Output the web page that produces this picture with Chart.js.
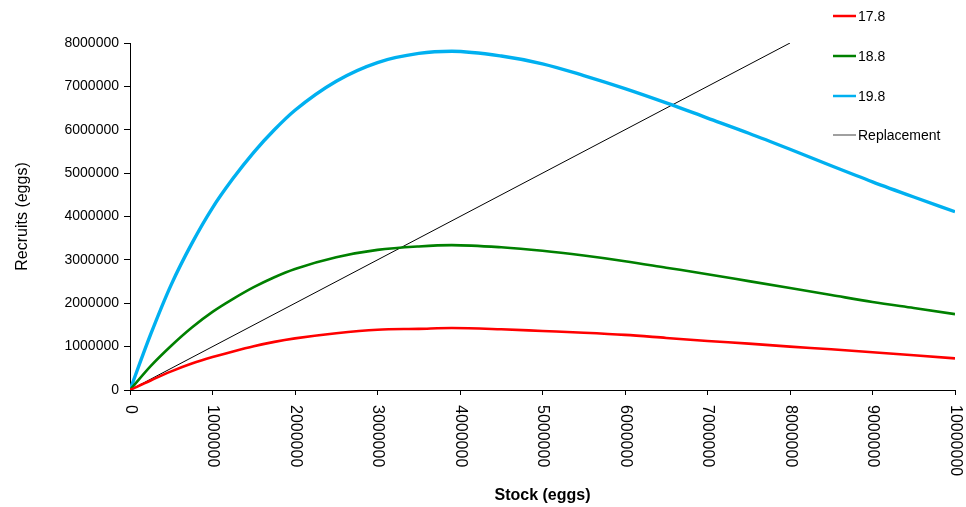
<!DOCTYPE html>
<html>
<head>
<meta charset="utf-8">
<title>Stock - recruitment</title>
<script src="https://cdn.jsdelivr.net/npm/chart.js@4.4.0/dist/chart.umd.min.js"></script>
<style>
  html, body { margin: 0; padding: 0; background: #fff; }
  #wrap { width: 966px; height: 507px; }
</style>
</head>
<body>
<div id="wrap"><canvas id="srChart" width="966" height="507"></canvas></div>
<script>
// values (eggs)
const stock = [0, 250000, 500000, 750000, 1000000, 1250000, 1500000, 1750000, 2000000,
  2500000, 3000000, 3500000, 3900000, 4500000, 5000000, 5500000, 6000000, 6500000,
  7000000, 7500000, 8000000, 8500000, 9000000, 9500000, 10000000];
const recruits178 = [0, 220000, 430000, 610000, 760000, 890000, 1010000, 1110000, 1190000,
  1310000, 1390000, 1410000, 1430000, 1400000, 1360000, 1320000, 1270000, 1200000,
  1130000, 1070000, 1000000, 940000, 870000, 800000, 730000];
const recruits188 = [0, 550000, 1020000, 1440000, 1800000, 2100000, 2370000, 2600000, 2790000,
  3060000, 3230000, 3310000, 3340000, 3290000, 3210000, 3100000, 2970000, 2820000,
  2670000, 2510000, 2350000, 2190000, 2030000, 1890000, 1750000];
const recruits198 = [0, 1280000, 2430000, 3380000, 4200000, 4880000, 5480000, 6000000, 6450000,
  7120000, 7550000, 7760000, 7810000, 7700000, 7520000, 7250000, 6950000, 6620000,
  6270000, 5920000, 5550000, 5170000, 4800000, 4450000, 4110000];
const replacementStock = [0, 8000000];
const replacementRecruits = [0, 8000000];
const seriesNames = ['17.8', '18.8', '19.8', 'Replacement'];
const xTickValues = [0, 1000000, 2000000, 3000000, 4000000, 5000000, 6000000, 7000000, 8000000, 9000000, 10000000];

const FONT = "'Liberation Sans', Arial, sans-serif";

function toPoints(xs, ys) {
  return xs.map((x, i) => ({ x: x, y: ys[i] }));
}

// x labels in the reference read top to bottom, so draw them ourselves
const xLabelPlugin = {
  id: 'xLabels',
  afterDraw(chart) {
    const ctx = chart.ctx;
    const xs = chart.scales.x;
    ctx.save();
    ctx.font = '16px ' + FONT;
    ctx.fillStyle = '#000';
    ctx.textAlign = 'left';
    ctx.textBaseline = 'middle';
    xTickValues.forEach(v => {
      const px = xs.getPixelForValue(v);
      ctx.save();
      ctx.translate(px, xs.top + 15);
      ctx.rotate(Math.PI / 2);
      ctx.fillText(String(v), 0, 0);
      ctx.restore();
    });
    ctx.restore();
  }
};

// legend sits inside the top right corner
const legendPlugin = {
  id: 'cornerLegend',
  afterDraw(chart) {
    const ctx = chart.ctx;
    const rows = [16, 56, 96, 135];
    ctx.save();
    ctx.font = '14px ' + FONT;
    ctx.textBaseline = 'middle';
    ctx.textAlign = 'left';
    chart.data.datasets.forEach((ds, i) => {
      const y = rows[i];
      ctx.strokeStyle = i === 3 ? '#808080' : ds.borderColor;
      ctx.lineWidth = i === 3 ? 1.5 : 2.5;
      ctx.beginPath();
      ctx.moveTo(833, y);
      ctx.lineTo(856, y);
      ctx.stroke();
      ctx.fillStyle = '#000';
      ctx.fillText(ds.label, 858, y + 1);
    });
    ctx.restore();
  }
};

const ctx = document.getElementById('srChart').getContext('2d');
const srChart = new Chart(ctx, {
  type: 'line',
  data: {
    datasets: [
      {
        label: seriesNames[0],
        data: toPoints(stock, recruits178),
        borderColor: '#ff0000',
        borderWidth: 2.6
      },
      {
        label: seriesNames[1],
        data: toPoints(stock, recruits188),
        borderColor: '#008000',
        borderWidth: 2.6
      },
      {
        label: seriesNames[2],
        data: toPoints(stock, recruits198),
        borderColor: '#00b0f0',
        borderWidth: 3.4
      },
      {
        label: seriesNames[3],
        data: toPoints(replacementStock, replacementRecruits),
        borderColor: '#000000',
        borderWidth: 1,
        cubicInterpolationMode: 'default',
        tension: 0
      }
    ]
  },
  options: {
    responsive: false,
    animation: false,
    events: [],
    cubicInterpolationMode: 'monotone',
    elements: {
      point: { radius: 0 },
      line: { fill: false }
    },
    layout: {
      padding: { top: 43, right: 11, bottom: 0, left: 9 }
    },
    plugins: {
      legend: { display: false },
      tooltip: { enabled: false }
    },
    scales: {
      x: {
        type: 'linear',
        min: 0,
        max: 10000000,
        ticks: {
          stepSize: 1000000,
          autoSkip: false,
          minRotation: 90,
          maxRotation: 90,
          color: 'rgba(0,0,0,0)',
          font: { family: FONT, size: 16 }
        },
        grid: {
          drawOnChartArea: false,
          color: '#000',
          tickLength: 5
        },
        border: { color: '#000', width: 1 },
        title: {
          display: true,
          text: 'Stock (eggs)',
          color: '#000',
          font: { family: FONT, size: 16, weight: 'bold' },
          padding: { top: 4, bottom: 2 }
        },
        afterFit(scale) {
          scale.height = 117;
          scale.paddingLeft = 0;
          scale.paddingRight = 0;
        }
      },
      y: {
        type: 'linear',
        min: 0,
        max: 8000000,
        ticks: {
          stepSize: 1000000,
          color: '#000',
          padding: 5,
          font: { family: FONT, size: 14 },
          callback: v => String(v)
        },
        grid: {
          drawOnChartArea: false,
          color: '#000',
          tickLength: 6
        },
        border: { color: '#000', width: 1 },
        title: {
          display: true,
          text: 'Recruits (eggs)',
          color: '#000',
          font: { family: FONT, size: 16 },
          padding: { top: 4, bottom: 4 }
        },
        afterFit(scale) {
          scale.width = 121;
        }
      }
    }
  },
  plugins: [xLabelPlugin, legendPlugin]
});
</script>
</body>
</html>
